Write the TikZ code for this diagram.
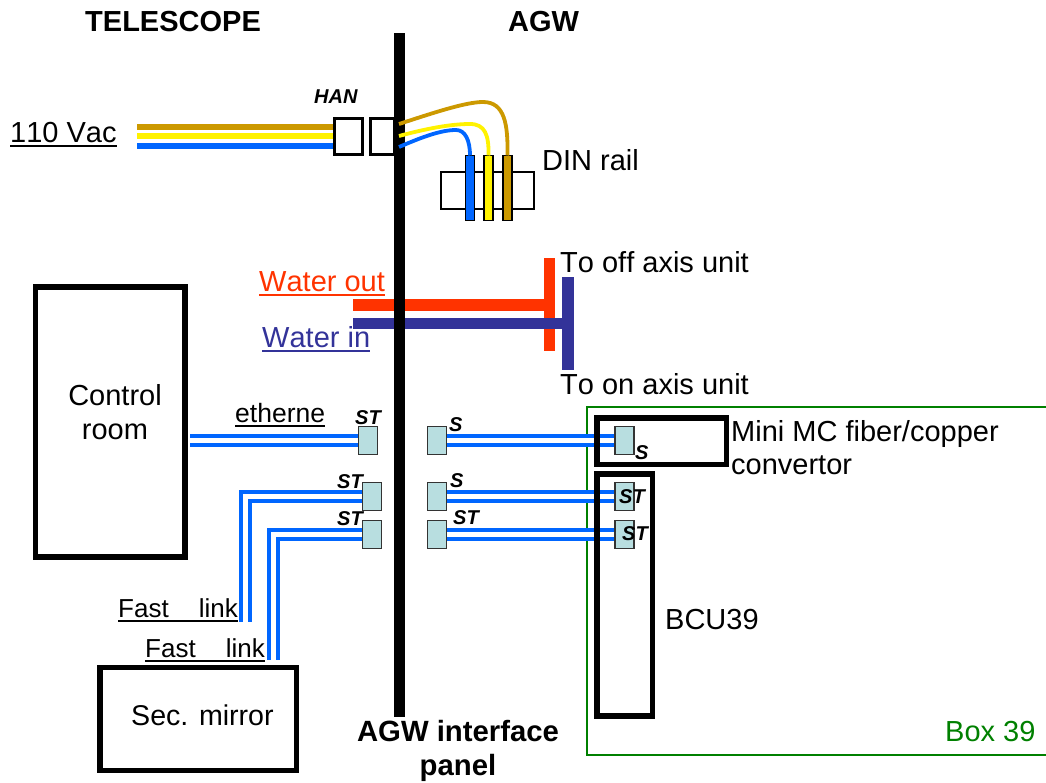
\documentclass[tikz,border=0pt]{standalone}
\usepackage{fontspec}
\setmainfont[Kerning=Off]{Liberation Sans}
\usetikzlibrary{
  positioning,
  calc,
}
\definecolor{wirebrown}{HTML}{CC9900}
\definecolor{wireblue}{HTML}{0066FF}
\definecolor{waterred}{HTML}{FF3300}
\definecolor{waterblue}{HTML}{333399}
\definecolor{plugfill}{HTML}{B8DEE0}
\definecolor{boxgreen}{HTML}{008000}
\newcommand{\ulbl}[1]{\setbox0\hbox{#1}\rlap{\rule[-4.5pt]{\wd0}{2.3pt}}\box0}
\tikzset{
  x=1pt,
  y=-1pt,
  lbl/.style={
    anchor=base west,
    inner sep=0mm,
    yshift=-0.7pt,
    font=\fontsize{29}{34}\selectfont
  },
  lbl small/.style={
    lbl,
    font=\fontsize{26.5}{30}\selectfont
  },
  lbl bold/.style={
    lbl,
    font=\fontsize{29}{34}\selectfont\bfseries
  },
  tag/.style={
    anchor=base west,
    inner sep=0mm,
    font=\fontsize{20}{24}\selectfont\bfseries\itshape
  },
  my box/.style={
    draw,
    line width=5.5pt,
    inner sep=0mm,
    outer sep=0mm,
    rectangle
  },
  han box/.style={
    my box,
    line width=3pt,
    minimum width=#1,
    minimum height=36pt
  },
  plug/.style={
    draw=black!80,
    fill=plugfill,
    line width=1.5pt,
    inner sep=0mm,
    outer sep=0mm,
    minimum width=19pt,
    minimum height=28pt,
    rectangle
  },
  terminal/.style={
    draw,
    fill=#1,
    line width=1.3pt,
    inner sep=0mm,
    outer sep=0mm,
    minimum width=9pt,
    minimum height=65pt,
    rectangle
  },
  wire/.style={
    draw=#1,
    line width=3.8pt
  },
  mains/.style={
    draw=#1,
    line width=6pt
  },
  pipe/.style={
    fill=#1,
    inner sep=0mm,
    outer sep=0mm,
    rectangle
  },
  fiber/.style={
    draw=wireblue,
    line width=3.6pt,
    double=white,
    double distance=5.6pt
  }
}
\begin{document}
\begin{tikzpicture}
\useasboundingbox (0,0) rectangle (1046,783);
% box 39, open on the right
\coordinate (box39 top) at (587,407);
\coordinate (box39 bot) at (587,755);
\draw[boxgreen,line width=1.5pt] (1050,407) -- (box39 top) -- (box39 bot) -- (1050,755);
% water
\node[pipe=waterred,minimum width=11pt,minimum height=93pt]  (redbar)  at (549.5,304.5) {};
\node[pipe=waterred,minimum width=191pt,minimum height=12pt] (redpipe) at (448.5,305) {};
\node[pipe=waterblue,minimum width=12pt,minimum height=93pt] (bluebar) at (568,323.5) {};
\node[pipe=waterblue,minimum width=215pt,minimum height=11pt](bluepipe)at (460.5,323.5) {};
% han wires
\node[han box=28pt] (hanleft)  at (348,136.5) {};
\node[han box=24pt] (hanright) at (382.5,136.5) {};
\coordinate (mains in) at (137,136.5);
\draw[mains=wirebrown] ([yshift=9.5pt]hanleft.west) -- ([yshift=9.5pt]mains in);
\draw[mains=yellow]    (hanleft.west) -- (mains in);
\draw[mains=wireblue]  ([yshift=-9.5pt]hanleft.west) -- ([yshift=-9.5pt]mains in);
\node[han box=28pt] at (hanleft) {};
% din rail
\node[draw,line width=1.3pt,minimum width=93pt,minimum height=37pt,inner sep=0mm] (rail) at (487.5,190.5) {};
\node[terminal=wireblue]  (tblue)   at (470,188) {};
\node[terminal=yellow]    (tyellow) at (488.5,188) {};
\node[terminal=wirebrown] (tbrown)  at (507.5,188) {};
% interface panel
\node[fill=black,inner sep=0mm,minimum width=11pt,minimum height=684pt] (panel) at (399.5,375) {};
\draw[wire=wirebrown] (399,124) .. controls (430,114) and (465,102) .. (483,102) .. controls (505,102) and (508,125) .. (tbrown.north);
\draw[wire=yellow]    (399,136) .. controls (425,129) and (450,124) .. (470,124) .. controls (485,124) and (489,135) .. (tyellow.north);
\draw[wire=wireblue]  (399,147) .. controls (420,138) and (440,130) .. (456,130) .. controls (465,130) and (470,140) .. (tblue.north);
% plugs
\node[plug] (pl1) at (368,440.5) {};
\node[plug] (pl2) at (372,496.5) {};
\node[plug] (pl3) at (372,534.5) {};
\node[plug] (pr1) at (437,440.5) {};
\node[plug] (pr2) at (437,496.5) {};
\node[plug] (pr3) at (437,534.5) {};
\node[plug] (pm1) at (624.5,440.5) {};
\node[plug] (pm2) at (624.5,496.5) {};
\node[plug] (pm3) at (624.5,534.5) {};
\coordinate (link1 end) at (245.5,622);
\coordinate (link2 end) at (273.5,660);
% fibers
\draw[fiber] (pr1) -- (pm1);
\draw[fiber] (pr2) -- (pm2);
\draw[fiber] (pr3) -- (pm3);
\draw[fiber] (pl2.west) -| (link1 end);
\draw[fiber] (pl3.west) -| (link2 end);
\fill[wireblue] ([xshift=-5.5pt,yshift=7pt]pl2.west -| link1 end) rectangle ([xshift=5pt,yshift=2.5pt]pl2.west -| link1 end);
\fill[wireblue] ([xshift=-5.5pt,yshift=7pt]pl3.west -| link2 end) rectangle ([xshift=5pt,yshift=2.5pt]pl3.west -| link2 end);
% boxes
\node[my box,minimum width=149.5pt,minimum height=269.5pt] (control) at (110,422) {};
\draw[fiber] (pl1.west) -- ([xshift=5.25pt]pl1.west -| control.east);
\node[my box,minimum width=196.5pt,minimum height=103pt] (secmirror) at (198,719) {};
\node[my box,minimum width=129.5pt,minimum height=46.5pt] (minimc)   at (661.5,441) {};
\node[my box,minimum width=55.5pt,minimum height=242pt] (bcu)        at (624.5,595) {};
\foreach \p in {pm1,pm2,pm3}
  \node[plug] at (\p) {};
\foreach \p in {pl1,pl2,pl3,pr1,pr2,pr3}
  \node[plug] at (\p) {};
% labels
\node[lbl bold] (ltele)  at (85,31)   {TELESCOPE};
\node[lbl bold] (lagw)   at (508,31)  {AGW};
\node[tag]      (lhan)   at (314,104) {HAN};
\node[lbl]      (lvac)   at (10,142)  {\ulbl{110 Vac}};
\node[lbl]      (ldin)   at (542,170) {DIN rail};
\node[lbl]      (loff)   at (560,272) {To off axis unit};
\node[lbl,text=waterred]  (lout) at (259,291) {\ulbl{Water out}};
\node[lbl,text=waterblue] (lin)  at (262,347) {\ulbl{Water in}};
\node[lbl]      (lon)    at (560,394) {To on axis unit};
\node[lbl,align=center,anchor=center] (lcontrol) at (115,411) {Control\\room};
\node[lbl small](leth)   at (235,422) {\ulbl{etherne}};
\node[lbl,align=left,anchor=west,font=\fontsize{29}{33}\selectfont] (lmini) at (731,446.5) {Mini MC fiber/copper\\convertor};
\node[lbl]      (lbcu)   at (665,629) {BCU39};
\node[lbl small,font=\fontsize{26}{30}\selectfont](lfast1) at (118,617) {\ulbl{Fast\hspace{30pt}link}};
\node[lbl small,font=\fontsize{26}{30}\selectfont](lfast2) at (145,657) {\ulbl{Fast\hspace{30pt}link}};
\node[lbl,font=\fontsize{28.6}{34}\selectfont] (lsec) at (131,725) {Sec. mirror};
\node[lbl bold,align=center,anchor=center,font=\fontsize{29.3}{34}\selectfont\bfseries] (lpanel) at (458,750) {AGW interface\\panel};
\node[lbl,text=boxgreen] (lbox) at (945,741) {Box 39};
\node[tag] at (355,424) {ST};
\node[tag] at (337,488) {ST};
\node[tag] at (337,525) {ST};
\node[tag] at (449,431) {S};
\node[tag] at (450,487) {S};
\node[tag] at (453,524) {ST};
\node[tag] at (635,459) {S};
\node[tag] at (619,503) {ST};
\node[tag] at (622,540) {ST};
\end{tikzpicture}
\end{document}
